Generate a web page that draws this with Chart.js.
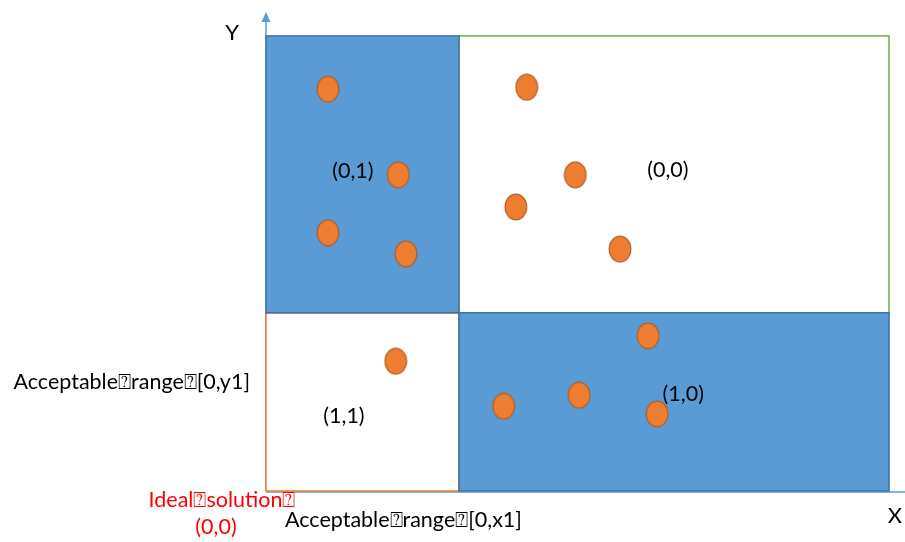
<!DOCTYPE html>
<html><head><meta charset="utf-8">
<script src="https://cdn.jsdelivr.net/npm/chart.js@4"></script>
<style>html,body{margin:0;padding:0;background:#fff}#wrap{width:905px;height:542px}</style>
</head><body><div id="wrap"><canvas id="c" width="905" height="542"></canvas></div>
<script>
// ---- data (normalised units: 0..100 on each axis) ----
const pointsX = [9.7, 20.7, 9.7, 21.9, 40.8, 48.4, 39.1, 55.4, 20.3, 59.8, 49.0, 37.2, 61.2];
const pointsY = [83.9, 66.0, 53.9, 49.5, 84.3, 66.0, 59.3, 50.5, 27.1, 32.4, 20.0, 17.7, 16.1];
const quadrantNames = ['(0,1)', '(0,0)', '(1,1)', '(1,0)'];
const quadrantLabelX = [13.6, 62.9, 12.2, 65.3];
const quadrantLabelY = [66.8, 67.0, 15.7, 20.3];
const boundX1 = 30.2;   // acceptable range x1
const boundY1 = 37.2;   // acceptable range y1
const boundXEnd = 97.5;
const boundYEnd = 95.0;
const axisNames = ['X', 'Y'];
const BOX = '\u2370';
const yRangeText = 'Acceptable' + BOX + 'range' + BOX + '[0,y1]';
const xRangeText = 'Acceptable' + BOX + 'range' + BOX + '[0,x1]';
const idealText = ['Ideal' + BOX + 'solution' + BOX, '(0,0)'];

const FONT = 'Lato, "Liberation Sans", sans-serif';

// ellipse marker
function makeMarker() {
  const c = document.createElement('canvas');
  c.width = 24; c.height = 28;
  const g = c.getContext('2d');
  g.beginPath();
  g.ellipse(12, 14, 10.8, 12.8, 0, 0, Math.PI * 2);
  g.fillStyle = '#ED7D31';
  g.fill();
  g.lineWidth = 1.2;
  g.strokeStyle = '#B25E24';
  g.stroke();
  return c;
}

const regionsPlugin = {
  id: 'regions',
  beforeDatasetsDraw(chart) {
    const ctx = chart.ctx;
    const xs = chart.scales.x, ys = chart.scales.y;
    const px = v => xs.getPixelForValue(v), py = v => ys.getPixelForValue(v);
    ctx.save();
    // axes
    ctx.strokeStyle = '#5B9BD5';
    ctx.fillStyle = '#5B9BD5';
    ctx.lineWidth = 1.5;
    const ox = px(0), oy = py(0);
    ctx.beginPath(); ctx.moveTo(ox, oy + 1); ctx.lineTo(chart.width, oy + 1); ctx.stroke();
    const top = chart.chartArea.top;
    ctx.beginPath(); ctx.moveTo(ox, oy); ctx.lineTo(ox, top + 8); ctx.stroke();
    ctx.beginPath(); ctx.moveTo(ox, top); ctx.lineTo(ox - 4.5, top + 10); ctx.lineTo(ox + 4.5, top + 10); ctx.closePath(); ctx.fill();

    function rect(x0, y0, x1, y1, fill, stroke) {
      const l = px(x0), r = px(x1), t = py(y1), b = py(y0);
      if (fill) { ctx.fillStyle = fill; ctx.fillRect(l, t, r - l, b - t); }
      ctx.strokeStyle = stroke; ctx.lineWidth = 1.5;
      ctx.strokeRect(l, t, r - l, b - t);
    }
    rect(0, 0, boundX1, boundY1, '#FFFFFF', '#ED7D31');
    rect(boundX1, boundY1, boundXEnd, boundYEnd, '#FFFFFF', '#70AD47');
    rect(0, boundY1, boundX1, boundYEnd, '#5B9BD5', '#41719C');
    rect(boundX1, 0, boundXEnd, boundY1, '#5B9BD5', '#41719C');
    ctx.restore();
  },
  afterDatasetsDraw(chart) {
    const ctx = chart.ctx;
    const xs = chart.scales.x, ys = chart.scales.y;
    const px = v => xs.getPixelForValue(v), py = v => ys.getPixelForValue(v);
    ctx.save();
    ctx.font = '21.5px ' + FONT;
    ctx.fillStyle = '#000';
    ctx.textAlign = 'center';
    ctx.textBaseline = 'middle';
    quadrantNames.forEach((t, i) => ctx.fillText(t, px(quadrantLabelX[i]), py(quadrantLabelY[i])));
    const ox = px(0), oy = py(0);
    ctx.font = '22px ' + FONT;
    ctx.fillText(axisNames[1], ox - 34, chart.chartArea.top + 21);
    ctx.fillText(axisNames[0], chart.width - 10, oy + 25);
    ctx.font = '21.5px ' + FONT;
    ctx.textAlign = 'right';
    ctx.fillText(yRangeText, ox - 16, py(22.8));
    ctx.textAlign = 'left';
    ctx.fillText(xRangeText, ox + 19, oy + 29);
    ctx.fillStyle = '#FF0000';
    ctx.textAlign = 'center';
    ctx.fillText(idealText[0], ox - 44, oy + 9);
    ctx.fillText(idealText[1], ox - 50, oy + 36);
    ctx.restore();
  }
};

new Chart(document.getElementById('c'), {
  type: 'scatter',
  data: {
    datasets: [{
      data: pointsX.map((x, i) => ({ x, y: pointsY[i] })),
      pointStyle: makeMarker(),
      pointRadius: 12,
      pointHoverRadius: 12
    }]
  },
  options: {
    responsive: false,
    animation: false,
    devicePixelRatio: 1,
    layout: { autoPadding: false, padding: { left: 266, right: 0, top: 12, bottom: 51 } },
    scales: {
      x: { type: 'linear', min: 0, max: 100, display: false },
      y: { type: 'linear', min: 0, max: 100, display: false }
    },
    plugins: { legend: { display: false }, tooltip: { enabled: false } }
  },
  plugins: [regionsPlugin]
});
</script>
</body></html>
